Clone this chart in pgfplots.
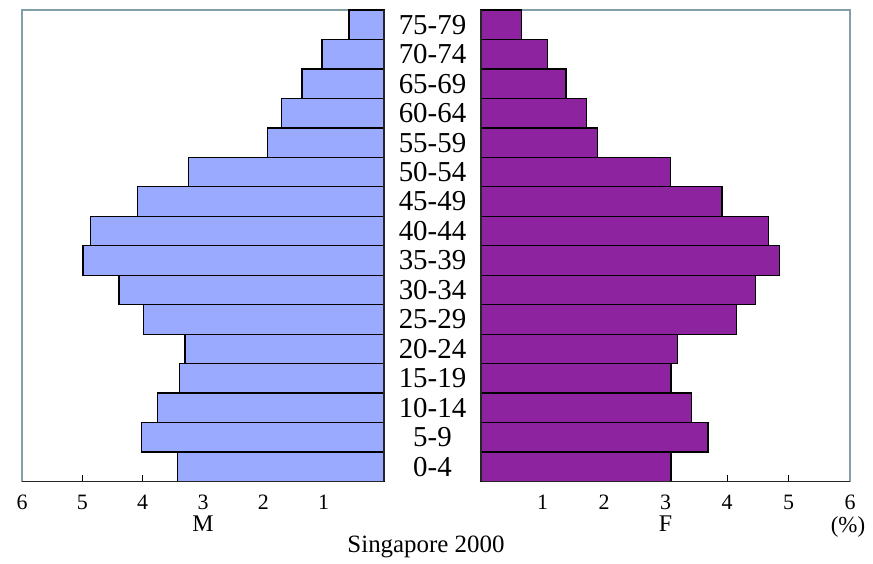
\documentclass[border=0pt]{standalone}
\usepackage{pgfplots}
\pgfplotsset{compat=1.18}
\usepackage{fontspec}
\setmainfont{Liberation Serif}

\definecolor{male}{RGB}{153,170,255}
\definecolor{female}{RGB}{141,35,158}
\definecolor{frame}{RGB}{130,160,170}

\pgfplotsset{
  pyr/.style={
    scale only axis,
    xbar,
    bar width=1,
    height=471.5bp,
    ymin=-0.5, ymax=15.5,
    xmin=0, xmax=6,
    ytick=\empty,
    xtick={1,2,3,4,5,6},
    xtick pos=bottom,
    tick align=inside,
    major tick length=6bp,
    tick style={black, line width=0.8bp},
    axis line style={frame, line width=1.2bp},
    every x tick label/.append style={font=\fontsize{22}{22}\selectfont, anchor=center, yshift=-20.5bp},
    /pgf/number format/assume math mode=true,
    xlabel style={font=\fontsize{24}{24}\selectfont, at={(axis description cs:0.5,-0.09)}, anchor=center},
    clip=false,
  }
}

\begin{document}
\begin{tikzpicture}
\path[use as bounding box] (0bp,0bp) rectangle (873bp,564bp);

% males
\begin{axis}[pyr,
  at={(22bp,82.5bp)}, anchor=south west,
  width=362bp,
  x dir=reverse,
  xlabel={M},
  extra y ticks={0,...,15},
  extra y tick labels={0-4,5-9,10-14,15-19,20-24,25-29,30-34,35-39,40-44,45-49,50-54,55-59,60-64,65-69,70-74,75-79},
  extra y tick style={major tick length=0pt, yticklabel pos=right,
    yticklabel style={anchor=center, xshift=48.5bp, font=\fontsize{29}{29}\selectfont}},
]
\addplot[fill=male, draw=black, line width=1.3bp] coordinates {
(3.42,0) (4.02,1) (3.75,2) (3.39,3) (3.30,4) (3.99,5) (4.39,6) (4.99,7)
(4.87,8) (4.08,9) (3.24,10) (1.93,11) (1.70,12) (1.36,13) (1.03,14) (0.58,15)
};
\draw[black!85, line width=1.4bp] (axis cs:0,-0.5) -- (axis cs:0,15.5);
\draw[black!85, line width=1.4bp] (axis cs:0,-0.5) -- (axis cs:6,-0.5);
\end{axis}

% females
\begin{axis}[pyr,
  at={(481bp,82.5bp)}, anchor=south west,
  width=369bp,
  xlabel={F},
]
\addplot[fill=female, draw=black, line width=1.3bp] coordinates {
(3.09,0) (3.69,1) (3.42,2) (3.09,3) (3.20,4) (4.16,5) (4.46,6) (4.85,7)
(4.67,8) (3.92,9) (3.08,10) (1.89,11) (1.71,12) (1.38,13) (1.08,14) (0.66,15)
};
\draw[black!85, line width=1.4bp] (axis cs:0,-0.5) -- (axis cs:0,15.5);
\draw[black!85, line width=1.4bp] (axis cs:0,-0.5) -- (axis cs:6,-0.5);
\end{axis}

\node[font=\fontsize{23}{23}\selectfont] at (848bp,37bp) {(\%)};
\node[font=\fontsize{25}{25}\selectfont] at (426bp,17bp) {Singapore 2000};
\end{tikzpicture}
\end{document}
